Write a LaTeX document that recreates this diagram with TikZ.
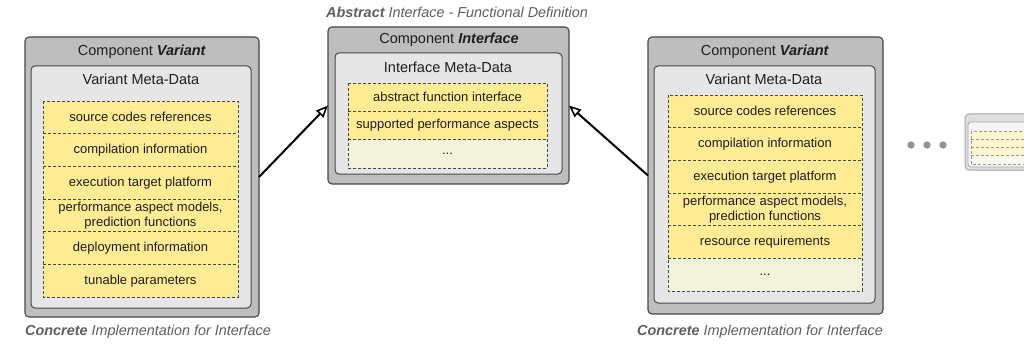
\documentclass[tikz,border=0pt]{standalone}
\usepackage{fontspec}
\setmainfont{Liberation Sans}
\usetikzlibrary{arrows.meta}
\definecolor{outerfill}{HTML}{BEBEBE}
\definecolor{innerfill}{HTML}{E6E6E6}
\definecolor{edge}{HTML}{474747}
\definecolor{rowyellow}{HTML}{FFEC94}
\definecolor{rowgreen}{HTML}{F1F3DA}
\definecolor{captgray}{HTML}{5E5E5E}
\definecolor{dotgray}{HTML}{929292}
\definecolor{txt}{HTML}{1E1E1E}
\tikzset{
  outerbox/.style={draw=edge, fill=outerfill, rounded corners=4pt, line width=1.1pt, inner sep=0pt, outer sep=0pt, anchor=north west},
  innerbox/.style={draw=edge, fill=innerfill, rounded corners=4pt, line width=1pt, inner sep=0pt, outer sep=0pt, anchor=north west},
  rowbox/.style={fill=rowyellow, inner sep=0pt, outer sep=0pt, anchor=north west, font=\fontsize{13}{15}\selectfont, text=txt, align=center},
  rowlast/.style={rowbox, fill=rowgreen},
  dashline/.style={draw=edge, dash pattern=on 3pt off 2pt, line width=0.8pt},
  hdr/.style={font=\fontsize{14.5}{17}\selectfont, text=txt, inner sep=0pt},
  capt/.style={font=\fontsize{14.4}{17}\selectfont\itshape, text=captgray, inner sep=0pt},
  fadeouter/.style={draw=gray!70, fill=gray!25, rounded corners=4pt, line width=1pt, inner sep=0pt, outer sep=0pt, anchor=north west},
  fadeinner/.style={draw=gray!70, fill=gray!8, rounded corners=3pt, line width=0.8pt, inner sep=0pt, outer sep=0pt, anchor=north west},
  faderow/.style={fill=rowyellow!45, inner sep=0pt, outer sep=0pt, anchor=north west},
  fadedash/.style={draw=gray!80, dash pattern=on 3pt off 2pt, line width=0.7pt},
  conn/.style={line width=2pt, -{Triangle[open, length=12pt, width=10pt, line width=1.6pt]}},
}
\begin{document}
\begin{tikzpicture}[x=1pt, y=-1pt]
\clip (0,0) rectangle (1024,350);
\useasboundingbox (0,0) rectangle (1024,350);

% ---------- Left component variant ----------
\node[outerbox, minimum width=234pt, minimum height=280pt] (L) at (25,37) {};
\node[innerbox, minimum width=220pt, minimum height=242pt] (Li) at (31,66) {};
\node[hdr] (Lh) at (142,52) {Component \textbf{\textit{Variant}}};
\node[hdr] (Lm) at (141,79) {Variant Meta-Data};
\node[rowbox, minimum width=195pt, minimum height=32.67pt] (L1) at (43,101) {source codes references};
\node[rowbox, minimum width=195pt, minimum height=32.67pt] (L2) at (43,133.67) {compilation information};
\node[rowbox, minimum width=195pt, minimum height=32.67pt] (L3) at (43,166.33) {execution target platform};
\node[rowbox, minimum width=195pt, minimum height=32.67pt] (L4) at (43,199) {performance aspect models,\\prediction functions};
\node[rowbox, minimum width=195pt, minimum height=32.67pt] (L5) at (43,231.67) {deployment information};
\node[rowbox, minimum width=195pt, minimum height=32.67pt] (L6) at (43,264.33) {tunable parameters};
\draw[dashline] (L1.north west) rectangle (L6.south east);
\foreach \n in {L1,L2,L3,L4,L5} \draw[dashline] (\n.south west) -- (\n.south east);
\node[capt, anchor=west] (Lc) at (25,332) {\textbf{Concrete} Implementation for Interface};

% ---------- Middle component interface ----------
\node[capt, anchor=center] (Mt) at (457,12) {\textbf{Abstract} Interface - Functional Definition};
\node[outerbox, minimum width=241pt, minimum height=157pt] (M) at (328,27) {};
\node[innerbox, minimum width=227pt, minimum height=121pt] (Mi) at (335,53) {};
\node[hdr] (Mh) at (449,40) {Component \textbf{\textit{Interface}}};
\node[hdr] (Mm) at (448,67) {Interface Meta-Data};
\node[rowbox, minimum width=199pt, minimum height=28.33pt] (M1) at (348,83) {abstract function interface};
\node[rowbox, minimum width=199pt, minimum height=28.33pt] (M2) at (348,111.33) {supported performance aspects};
\node[rowlast, minimum width=199pt, minimum height=28.33pt] (M3) at (348,139.67) {...};
\draw[dashline] (M1.north west) rectangle (M3.south east);
\foreach \n in {M1,M2} \draw[dashline] (\n.south west) -- (\n.south east);

% ---------- Right component variant ----------
\node[outerbox, minimum width=235pt, minimum height=277pt] (R) at (648,37) {};
\node[innerbox, minimum width=221pt, minimum height=237pt] (Ri) at (654,66) {};
\node[hdr] (Rh) at (765,52) {Component \textbf{\textit{Variant}}};
\node[hdr] (Rm) at (764,79) {Variant Meta-Data};
\node[rowbox, minimum width=194pt, minimum height=32.67pt] (R1) at (668,95) {source codes references};
\node[rowbox, minimum width=194pt, minimum height=32.67pt] (R2) at (668,127.67) {compilation information};
\node[rowbox, minimum width=194pt, minimum height=32.67pt] (R3) at (668,160.33) {execution target platform};
\node[rowbox, minimum width=194pt, minimum height=32.67pt] (R4) at (668,193) {performance aspect models,\\prediction functions};
\node[rowbox, minimum width=194pt, minimum height=32.67pt] (R5) at (668,225.67) {resource requirements};
\node[rowlast, minimum width=194pt, minimum height=32.67pt] (R6) at (668,258.33) {...};
\draw[dashline] (R1.north west) rectangle (R6.south east);
\foreach \n in {R1,R2,R3,R4,R5} \draw[dashline] (\n.south west) -- (\n.south east);
\node[capt, anchor=west] (Rc) at (637,332) {\textbf{Concrete} Implementation for Interface};

% ---------- Connectors ----------
\draw[conn] (L.east) -- (M.west);
\draw[conn] (R.west) -- (M.east);

% ---------- Ellipsis dots ----------
\fill[dotgray] (911,145) circle (3.6pt);
\fill[dotgray] (927,145) circle (3.6pt);
\fill[dotgray] (943,145) circle (3.6pt);

% ---------- Faded further component ----------
\node[fadeouter, minimum width=100pt, minimum height=56pt] (F) at (965,114) {};
\node[fadeinner, minimum width=90pt, minimum height=45pt] (Fi) at (968,122) {};
\node[faderow, minimum width=80pt, minimum height=8.25pt] (F1) at (971,131) {};
\node[faderow, minimum width=80pt, minimum height=8.25pt] (F2) at (971,139.25) {};
\node[faderow, minimum width=80pt, minimum height=8.25pt] (F3) at (971,147.5) {};
\node[faderow, fill=rowgreen!50, minimum width=80pt, minimum height=8.25pt] (F4) at (971,155.75) {};
\draw[fadedash] (F1.north west) rectangle (F4.south east);
\foreach \n in {F1,F2,F3} \draw[fadedash] (\n.south west) -- (\n.south east);
\end{tikzpicture}
\end{document}
